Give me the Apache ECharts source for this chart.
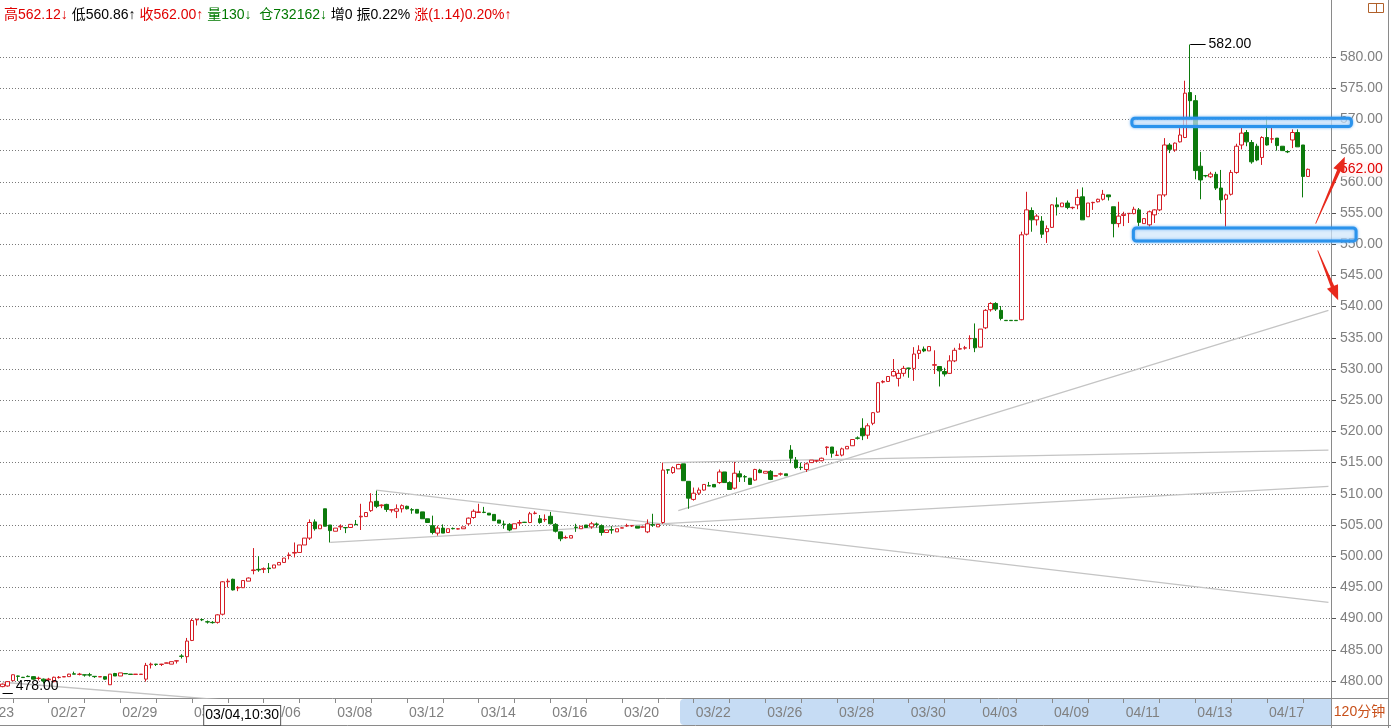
<!DOCTYPE html>
<html><head><meta charset="utf-8">
<script src="https://cdn.jsdelivr.net/npm/echarts@6/dist/echarts.min.js"></script>
<style>html,body{margin:0;padding:0;background:#fff;overflow:hidden}#c{width:1391px;height:728px}</style>
</head><body><div id="c"></div>
<script>
// ---------- data ----------
const opens = [479.1,479.2,480.05,480.8,480.6,480.75,480.7,480.4,480.3,480.2,479.9,480.55,480.65,480.7,481.15,481.05,481.0,481.0,480.75,480.65,
480.7,479.4,481.2,480.8,481.2,481.1,481.05,481.05,480.3,482.6,482.7,482.65,482.85,482.7,483.2,484.0,483.9,486.5,489.8,489.85,
489.5,489.4,489.4,490.7,495.9,496.3,494.9,494.95,496.0,497.7,497.9,497.9,498.1,498.1,498.6,499.0,500.1,500.5,500.6,501.8,
502.9,505.5,504.4,507.6,505.0,504.0,504.7,504.6,504.6,505.1,506.3,506.35,507.3,508.8,508.1,508.3,507.4,507.2,507.6,508.0,
507.45,507.5,507.1,506.0,504.9,503.7,504.5,503.8,504.45,504.35,504.4,505.2,506.2,507.0,507.05,506.9,506.7,505.8,505.15,505.1,
504.4,505.3,505.45,505.4,506.85,506.0,505.85,506.4,505.1,503.9,502.95,502.9,504.65,504.4,505.0,504.7,505.15,504.9,503.8,504.25,
503.9,504.5,504.85,504.85,504.8,504.65,503.9,505.05,504.7,505.4,513.85,513.4,514.0,514.8,512.0,509.1,510.1,510.6,511.3,511.5,
511.8,513.5,511.8,510.9,513.2,512.75,512.5,512.2,513.8,513.3,513.6,512.85,513.15,513.2,517.0,515.4,514.25,513.9,515.0,515.25,
515.3,517.4,517.5,516.15,516.2,517.2,517.7,518.95,520.5,519.4,521.3,523.1,527.9,528.0,528.9,528.5,529.3,530.15,530.1,532.5,
533.2,532.9,530.6,530.4,529.6,529.3,531.3,533.2,533.35,534.85,534.9,533.5,536.6,539.5,540.5,539.4,537.8,537.8,537.8,537.9,
551.6,555.4,553.9,553.7,552.0,552.7,556.3,556.0,556.6,555.85,556.3,557.6,554.4,556.65,556.8,557.2,557.9,556.0,553.3,554.6,
554.9,554.9,555.5,553.3,553.1,554.7,555.5,557.9,565.9,565.1,566.4,567.1,574.3,573.0,562.5,561.0,560.8,561.2,559.0,557.2,
558.0,561.5,565.9,567.9,566.3,565.7,563.9,567.1,566.85,567.0,565.7,564.85,566.7,567.9,565.9,560.86];
const closes = [479.5,479.9,481.0,480.75,480.55,480.7,480.3,480.45,480.0,480.3,480.6,480.6,480.7,481.1,481.1,481.1,480.95,480.95,480.7,480.7,
480.3,481.1,480.8,481.3,481.15,481.05,481.1,481.1,482.5,482.7,482.65,482.7,482.9,483.1,483.25,483.95,486.4,489.7,489.9,489.8,
489.45,489.35,490.6,495.9,496.0,494.6,495.0,496.1,496.5,497.8,497.8,498.0,498.0,498.6,499.0,499.7,500.2,500.6,501.8,502.9,
505.4,504.4,505.0,504.8,504.1,504.5,504.8,504.55,505.1,505.05,506.4,507.0,508.7,508.0,508.2,507.5,507.45,507.6,508.1,507.6,
507.4,506.9,506.0,505.4,503.8,504.5,503.7,504.4,504.4,504.4,504.7,506.1,507.2,507.1,507.0,506.6,505.7,505.3,505.1,504.2,
505.2,505.4,505.4,506.8,506.9,505.4,505.9,505.2,504.0,502.8,503.0,503.3,504.6,504.8,504.6,505.2,505.1,503.8,504.2,504.2,
504.4,504.55,504.9,504.9,504.5,504.7,505.2,505.0,505.1,513.8,513.8,514.2,514.7,512.1,509.3,510.1,510.6,511.5,511.25,511.1,
513.5,511.8,510.7,513.3,512.7,512.7,511.5,513.9,513.4,513.6,512.3,512.9,513.2,512.9,515.7,514.2,514.2,514.8,515.4,515.3,
515.7,517.5,516.5,516.2,517.2,517.6,518.7,518.9,519.3,520.9,523.0,527.8,528.0,528.8,529.6,529.3,530.1,530.1,532.4,533.0,
532.9,533.6,530.7,529.7,529.2,531.3,533.0,533.25,533.4,534.9,533.4,536.4,539.4,540.5,539.6,538.1,537.75,537.75,537.75,551.5,
555.5,553.9,554.5,551.6,552.5,556.3,556.0,556.6,555.9,555.9,557.5,553.9,556.6,556.7,557.2,558.0,557.6,553.3,554.5,554.8,
554.95,555.6,553.5,554.1,555.2,555.5,557.9,565.9,565.2,566.2,567.5,574.2,573.0,561.8,560.3,560.95,561.25,559.0,557.1,557.9,
561.5,565.7,567.8,566.4,563.2,563.5,567.1,565.9,566.9,565.8,565.0,564.8,567.9,565.6,560.86,562.0];
const lows = [479.0,479.1,480.0,480.0,480.5,480.7,480.25,480.1,479.6,480.0,479.8,480.4,480.65,480.7,481.1,480.9,480.7,480.7,480.5,480.65,
480.2,479.4,480.8,480.8,481.15,481.05,481.05,481.05,479.9,482.0,482.4,482.4,482.85,482.7,482.8,483.6,482.9,486.4,488.9,489.6,
489.2,489.2,489.2,490.5,495.0,494.5,494.4,494.9,496.0,497.1,497.5,497.3,497.3,498.1,498.6,499.0,499.5,499.8,500.6,501.8,
502.6,504.1,504.4,504.8,502.2,504.0,504.2,503.7,504.6,505.05,504.2,506.3,507.1,507.7,507.7,507.1,507.0,506.1,507.0,507.5,
506.8,506.9,506.0,505.4,503.5,503.3,503.7,503.8,504.3,504.3,504.4,504.9,506.0,507.0,506.9,506.6,505.7,505.3,504.4,504.0,
504.4,504.9,505.4,505.3,506.7,505.2,505.5,505.1,503.8,502.4,502.8,502.9,503.9,504.4,504.6,504.4,504.6,503.3,503.8,503.6,
503.9,504.5,504.7,504.7,504.5,504.6,503.7,504.7,504.7,505.2,513.2,513.2,514.0,512.1,507.6,508.9,509.8,510.5,511.25,511.1,
511.6,511.8,510.7,510.7,511.9,511.9,511.5,512.1,513.3,513.3,512.2,512.85,512.9,512.9,514.9,514.0,513.8,513.5,515.0,515.1,
515.2,516.2,515.8,516.15,516.0,517.2,517.7,518.7,518.6,518.8,521.0,523.0,527.7,528.0,528.8,527.2,528.8,528.6,528.1,531.6,
532.7,532.9,529.2,527.2,528.8,529.2,531.1,533.1,533.1,533.2,532.7,533.5,536.4,539.2,539.3,537.8,537.75,537.75,537.75,537.8,
551.4,552.0,553.0,551.0,550.2,552.6,554.6,556.0,555.6,555.6,555.6,553.9,554.4,555.5,556.7,557.0,557.0,551.1,552.7,552.9,
553.4,554.8,552.9,553.3,552.8,553.4,555.3,557.6,564.6,564.8,566.3,567.0,569.9,560.4,557.2,560.7,560.6,558.7,554.9,552.8,
557.8,561.3,565.2,565.7,562.9,563.3,562.7,565.8,566.2,565.0,565.0,564.6,565.4,565.6,557.5,560.86];
const highs = [479.6,480.0,481.05,480.85,480.65,480.9,480.75,480.7,480.4,480.5,480.7,480.8,480.75,481.15,481.5,481.3,481.0,481.3,480.75,480.7,
480.7,481.1,481.3,481.3,481.2,481.1,481.1,481.1,482.9,482.95,482.75,482.75,482.95,483.1,483.3,484.3,486.9,490.0,489.95,490.0,
489.7,489.6,490.7,496.0,496.4,496.4,495.2,496.1,496.6,501.3,500.0,498.2,498.9,498.6,499.0,499.7,500.6,502.2,501.8,502.9,
505.9,505.9,505.0,507.6,505.0,504.5,505.1,504.6,505.1,505.8,508.4,507.0,510.1,510.5,508.3,508.4,507.45,508.3,508.3,508.1,
507.7,507.5,507.1,506.0,506.5,504.9,505.1,504.4,504.6,504.5,504.7,506.2,507.5,508.4,507.9,506.9,506.7,505.8,505.7,505.3,
505.2,505.8,505.5,507.1,507.2,506.6,506.7,507.1,505.3,503.9,503.3,503.3,505.2,504.8,505.0,505.5,505.4,505.1,504.2,504.8,
504.4,504.6,505.2,505.0,504.8,504.75,505.9,506.8,505.1,515.0,513.85,514.4,514.8,514.8,512.0,511.0,511.0,511.5,511.9,511.5,
513.9,513.5,512.0,515.1,513.7,513.0,512.5,514.0,514.0,513.6,513.8,512.95,513.4,513.2,517.8,515.9,515.0,515.0,515.4,515.4,
515.8,517.6,517.5,516.9,517.4,517.6,518.7,519.2,522.1,521.3,523.1,527.9,528.2,528.8,531.6,529.9,530.5,530.2,533.5,533.8,
533.6,533.6,533.0,530.4,530.2,532.2,533.4,534.1,533.7,535.4,537.3,536.4,539.6,540.7,540.7,540.1,537.8,537.8,537.8,552.0,
558.4,555.9,554.8,554.5,553.0,556.4,557.5,556.6,557.0,556.0,558.8,559.1,556.6,556.8,557.3,558.7,557.9,556.0,556.8,555.2,
555.0,556.0,555.8,554.1,555.4,555.6,557.9,567.0,566.2,566.3,568.6,576.2,582.0,573.9,564.8,561.1,561.6,561.6,561.9,558.1,
561.9,566.1,568.7,568.3,566.7,566.1,567.3,570.4,568.7,567.0,565.7,565.0,568.4,568.4,565.9,562.12];

const slotCount = 260;                       // bar slots on the time axis (last 4 empty)
const xTickLabels = ['02/27','02/29','03/04','03/06','03/08','03/12','03/14','03/16','03/20',
                     '03/22','03/26','03/28','03/30','04/03','04/09','04/11','04/13','04/17'];
const xLabelFirst = 9, xLabelStep = 14, xTickStep = 7;
const yMin = 477.276, yMax = 584.327;
const trendLines = [
  [[73, 510.6], [259, 492.6]],
  [[64, 502.2], [259, 511.2]],
  [[129, 515.0], [259, 517.0]],
  [[132, 507.3], [259, 539.4]],
  [[0, 479.8], [44, 476.9]]
];
const highMark = {idx: 232, value: 582.00};
const lowMark = {idx: 0, value: 478.00};
const lastPrice = 562.00;
const headerTexts = ['高562.12↓','低560.86↑','收562.00↑','量130↓','仓732162↓','增0','振0.22%','涨(1.14)0.20%↑'];
const headerColors = ['r','k','r','g','g','k','k','r'];
const headerGaps = [' ',' ',' ','  ',' ',' ',' ',''];
const crossLabel = {idx: 47, text: '03/04,10:30'};
const periodText = '120分钟';
// annotation boxes [idxLeft, priceTop, idxRight, priceBottom]
const boxes = [[220.6, 570.2, 263.5, 568.85], [220.9, 552.6, 264.4, 550.5]];
// arrows [idxFrom, priceFrom, idxTo, priceTo]
const arrows = [[256.5, 553.3, 262.2, 564.0], [256.9, 549.0, 260.9, 541.0]];

// ---------- chart ----------
const FONT = '"Liberation Sans", Arial, "Noto Sans CJK SC", sans-serif';
const FS = 14;
const categories = Array.from({length: slotCount}, (_, i) => 'b' + i);
const labelMap = {};
xTickLabels.forEach((t, k) => { labelMap[xLabelFirst + k * xLabelStep] = t; });
const kData = opens.map((o, i) => [o, closes[i], lows[i], highs[i]]);

const headerRich = headerTexts.map((t, i) => '{' + headerColors[i] + '|' + t + '}' + headerGaps[i]).join('');

const chart = echarts.init(document.getElementById('c'), null, {renderer: 'canvas'});
const option = {
  animation: false,
  backgroundColor: '#ffffff',
  textStyle: {fontFamily: FONT},
  title: {
    text: headerRich, left: -1, top: 3,
    textStyle: {fontSize: FS, fontFamily: FONT, fontWeight: 'normal',
      rich: {
        r: {color: '#e00000', fontSize: FS, fontFamily: FONT},
        k: {color: '#000000', fontSize: FS, fontFamily: FONT},
        g: {color: '#007800', fontSize: FS, fontFamily: FONT}
      }}
  },
  grid: {left: -2, right: 60, top: 30, bottom: 30, containLabel: false},
  xAxis: {
    type: 'category', data: categories, boundaryGap: true,
    axisLine: {show: true, lineStyle: {color: '#8a8a8a', width: 1}},
    axisTick: {show: true, alignWithLabel: true, length: 5, lineStyle: {color: '#8a8a8a'},
      interval: (i) => (i % xTickStep) === (xLabelFirst % xTickStep)},
    axisLabel: {show: true, color: '#808080', fontSize: FS, fontFamily: FONT, margin: 8, align: 'left',
      padding: [0, 0, 0, 2],
      interval: (i) => labelMap[i] !== undefined,
      formatter: (v, i) => labelMap[i] || ''},
    splitLine: {show: false}
  },
  yAxis: {
    type: 'value', position: 'right', min: yMin, max: yMax, scale: true,
    minInterval: 5, maxInterval: 5, splitNumber: 21,
    axisLine: {show: false},
    axisTick: {show: true, length: 5, lineStyle: {color: '#555555'}},
    axisLabel: {color: '#7f7f7f', fontSize: FS, fontFamily: FONT, margin: 9,
      showMinLabel: false, showMaxLabel: false,
      formatter: (v) => v.toFixed(2)},
    splitLine: {show: true, showMinLine: false, showMaxLine: false,
      lineStyle: {color: '#7a7a7a', width: 1, type: [1, 2]}}
  },
  series: [
    {
      type: 'candlestick', data: kData, barWidth: 4, clip: true,
      itemStyle: {color: '#ffffff', color0: '#0c7a0c', borderColor: '#d41c24', borderColor0: '#0c7a0c', borderWidth: 1},
      markLine: {
        silent: true, symbol: 'none', animation: false,
        data: [
          [{coord: [highMark.idx, highMark.value], lineStyle: {color: '#000', width: 1, type: 'solid'}},
           {coord: [highMark.idx + 3, highMark.value],
            label: {show: true, position: 'end', distance: 3, formatter: highMark.value.toFixed(2), color: '#000', fontSize: FS, fontFamily: FONT}}],
          [{coord: [lowMark.idx, lowMark.value], lineStyle: {color: '#000', width: 1, type: 'solid'}},
           {coord: [lowMark.idx + 2, lowMark.value],
            label: {show: true, position: 'end', distance: 3, verticalAlign: 'bottom', formatter: lowMark.value.toFixed(2), color: '#000', fontSize: FS,
              fontFamily: FONT}}],
          {yAxis: lastPrice, lineStyle: {color: 'rgba(0,0,0,0)', width: 1, type: 'solid'},
           label: {show: true, position: 'end', distance: 9, formatter: lastPrice.toFixed(2), color: '#e00000', fontSize: FS,
             fontFamily: FONT, backgroundColor: 'rgba(255,244,244,0.9)', padding: [1, 0, 0, 0]}}
        ]
      }
    }
  ].concat(trendLines.map(seg => ({
    type: 'line', data: seg, symbol: 'none', silent: true, clip: true, z: 1,
    lineStyle: {color: '#c4c4c4', width: 1.3}
  })))
};
chart.setOption(option);

// ---------- annotation graphics, positioned through the chart's own scales ----------
const x0 = chart.convertToPixel({xAxisIndex: 0}, 0);
const x1 = chart.convertToPixel({xAxisIndex: 0}, 1);
const bw = x1 - x0;
const X = (i) => x0 + i * bw;
const Y = (v) => chart.convertToPixel({yAxisIndex: 0}, v);

const g = [];
g.push({type: 'line', z: 50, shape: {x1: 1331.5, y1: 0, x2: 1331.5, y2: 728}, style: {stroke: '#8a8a8a', lineWidth: 1}});
g.push({type: 'line', z: 50, shape: {x1: 1388.5, y1: 0, x2: 1388.5, y2: 728}, style: {stroke: '#8a8a8a', lineWidth: 1}});
g.push({type: 'rect', z: -5, shape: {x: 680, y: 699, width: 651, height: 26, r: [4, 0, 0, 4]}, style: {fill: '#c6dcf4'}});
g.push({type: 'line', z: 50, shape: {x1: 0, y1: 725.5, x2: 1391, y2: 725.5}, style: {stroke: '#8a8a8a', lineWidth: 1}});
g.push({type: 'line', z: 50, shape: {x1: 1331, y1: 698.5, x2: 1388, y2: 698.5}, style: {stroke: '#8a8a8a', lineWidth: 1}});
g.push({type: 'text', z: 60, x: 1359.5, y: 712.5, style: {text: periodText, fill: '#c8501a', font: FS + 'px ' + FONT, textAlign: 'center', textVerticalAlign: 'middle'}});
g.push({type: 'text', z: 60, x: X(xLabelFirst - xLabelStep) + 2, y: 713, style: {text: '02/23', fill: '#808080', font: FS + 'px ' + FONT, textAlign: 'left', textVerticalAlign: 'middle'}});
g.push({type: 'text', z: 70, x: X(crossLabel.idx) - 1, y: 715.5, style: {text: crossLabel.text, fill: '#000', font: FS + 'px ' + FONT,
  textAlign: 'center', textVerticalAlign: 'middle', backgroundColor: '#ffffff', borderColor: '#555555', borderWidth: 1, padding: [3, 1, 2, 1]}});
g.push({type: 'rect', z: 60, shape: {x: 1368.5, y: 3.5, width: 15, height: 9}, style: {fill: 'none', stroke: '#b0602a', lineWidth: 1}});
g.push({type: 'line', z: 60, shape: {x1: 1376.5, y1: 3.5, x2: 1376.5, y2: 12.5}, style: {stroke: '#b0602a', lineWidth: 1}});
boxes.forEach(b => {
  const xa = X(b[0]), xb = X(b[2]), ya = Y(b[1]), yb = Y(b[3]);
  g.push({type: 'rect', z: 80, shape: {x: xa, y: ya, width: xb - xa, height: yb - ya, r: 3},
    style: {fill: 'rgba(255,255,255,0.55)', stroke: '#2b93ec', lineWidth: 3, shadowBlur: 3, shadowColor: 'rgba(60,150,240,0.7)'}});
});
arrows.forEach(a => {
  const sx = X(a[0]), sy = Y(a[1]), ex = X(a[2]), ey = Y(a[3]);
  const dx = ex - sx, dy = ey - sy, L = Math.hypot(dx, dy);
  const ux = dx / L, uy = dy / L, nx = -uy, ny = ux;
  const hl = 15, hw = 6;
  const bx = ex - ux * hl, by = ey - uy * hl;
  const pts = [
    [sx + nx * 0.4, sy + ny * 0.4], [bx + nx * 1.8, by + ny * 1.8], [bx + nx * hw, by + ny * hw], [ex, ey],
    [bx - nx * hw, by - ny * hw], [bx - nx * 1.8, by - ny * 1.8], [sx - nx * 0.4, sy - ny * 0.4]
  ];
  g.push({type: 'polygon', z: 90, shape: {points: pts}, style: {fill: '#e8291c'}});
});
chart.setOption({graphic: g});
</script>
</body></html>
